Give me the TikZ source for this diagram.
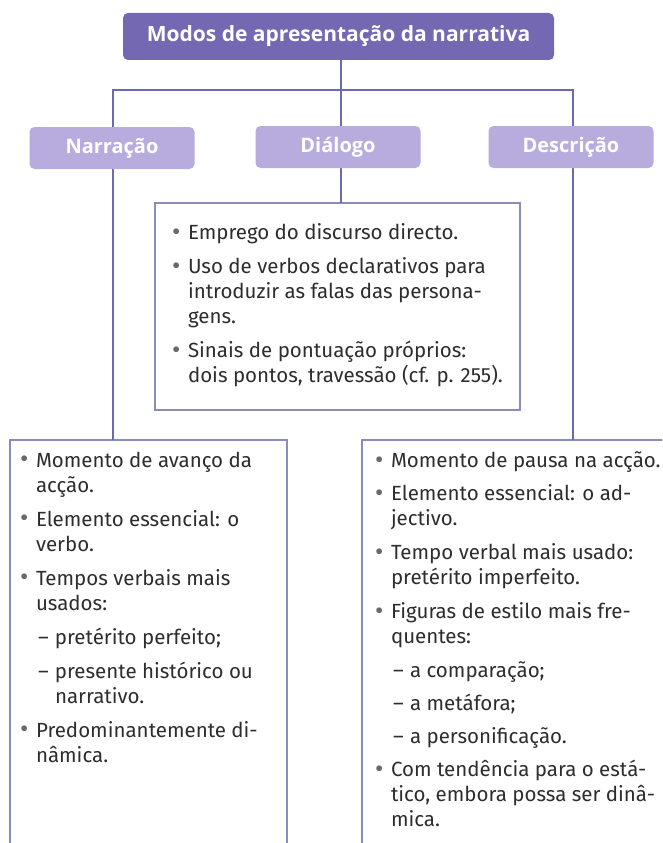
\documentclass[tikz,border=0pt]{standalone}
\usepackage{fontspec}
\setmainfont{Fira Sans}
\newfontfamily\headfont{Open Sans}
\usetikzlibrary{positioning}

\definecolor{titlefill}{RGB}{117,104,178}
\definecolor{modefill}{RGB}{184,172,222}
\definecolor{linkcol}{RGB}{104,106,182}
\definecolor{framecol}{RGB}{140,140,184}
\definecolor{bodytext}{RGB}{45,45,45}
\definecolor{dotcol}{RGB}{105,105,105}

\newcommand{\itm}{\makebox[16pt][l]{\textcolor{dotcol}{\raisebox{-0.05ex}{\scalebox{1.25}{\textbullet}}}}}
\newcommand{\itmcont}{\hspace*{16pt}}
\newcommand{\subitm}{\hspace*{18pt}\makebox[17pt][l]{--}}
\newcommand{\subcont}{\hspace*{35pt}}

\begin{document}
\begin{tikzpicture}[
    x=1pt,
    y=-1pt,
    title/.style={
        rectangle,
        fill=titlefill,
        rounded corners=5pt,
        minimum width=431,
        minimum height=47,
        text=white,
        font=\headfont\bfseries\fontsize{21}{24}\selectfont
    },
    mode/.style={
        rectangle,
        fill=modefill,
        rounded corners=5pt,
        minimum width=165,
        minimum height=42,
        text=white,
        font=\headfont\bfseries\fontsize{20}{24}\selectfont
    },
    panel/.style={
        rectangle,
        draw=framecol,
        line width=1.4pt,
        fill=white,
        anchor=north west,
        outer sep=0pt
    },
    body/.style={
        align=left,
        inner sep=0pt,
        outer sep=0pt,
        text=bodytext,
        font=\fontsize{20.5}{25}\selectfont
    },
    link/.style={
        draw=linkcol,
        line width=2.8pt
    }
]
\useasboundingbox (0,0) rectangle (662,843);
\clip (0,0) rectangle (662,843);

% Nodes
\node [title] (modos) at (338.5,36.5) {Modos de apresentação da narrativa};

\node [panel, minimum width=365, minimum height=207] (dlgframe) at (155,203) {};
\node [panel, minimum width=277, minimum height=430] (narframe) at (10,440) {};
\node [panel, minimum width=340, minimum height=430] (desframe) at (362,440) {};

\node [body, below right=21pt and 17pt of dlgframe.north west] (dlgtext) {%
\itm Emprego do discurso directo.\\[9pt]
\itm Uso de verbos declarativos para\\
\itmcont introduzir as falas das persona-\\
\itmcont gens.\\[9pt]
\itm Sinais de pontuação próprios:\\
\itmcont dois pontos, travessão (cf. p. 255).};

\node [body, below right=12pt and 10pt of narframe.north west] (nartext) {%
\itm Momento de avanço da\\
\itmcont acção.\\[9pt]
\itm Elemento essencial: o\\
\itmcont verbo.\\[9pt]
\itm Tempos verbais mais\\
\itmcont usados:\\[9pt]
\subitm pretérito perfeito;\\[9pt]
\subitm presente histórico ou\\
\subcont narrativo.\\[9pt]
\itm Predominantemente di-\\
\itmcont nâmica.};

\node [body, below right=12pt and 13pt of desframe.north west] (destext) {%
\itm Momento de pausa na acção.\\[8pt]
\itm Elemento essencial: o ad-\\
\itmcont jectivo.\\[9pt]
\itm Tempo verbal mais usado:\\
\itmcont pretérito imperfeito.\\[9pt]
\itm Figuras de estilo mais fre-\\
\itmcont quentes:\\[9pt]
\subitm a comparação;\\[8pt]
\subitm a metáfora;\\[8pt]
\subitm a personificação.\\[8pt]
\itm Com tendência para o está-\\
\itmcont tico, embora possa ser dinâ-\\
\itmcont mica.};

% Edges
\coordinate (hub) at (341,90);
\coordinate (hubl) at (113,90);
\coordinate (hubr) at (573,90);
\path [link] (modos.south -| hub) -- (hub);
\path [link] (hubl |- narframe.north) -- (hubl) -- (hubr) -- (hubr |- desframe.north);
\path [link] (hub) -- (hub |- dlgframe.north);

% Headers on top of the links
\node [mode] (narr) at (112,148) {Narração};
\node [mode] (dial) at (338,147) {Diálogo};
\node [mode] (desc) at (571,147) {Descrição};

\end{tikzpicture}
\end{document}
